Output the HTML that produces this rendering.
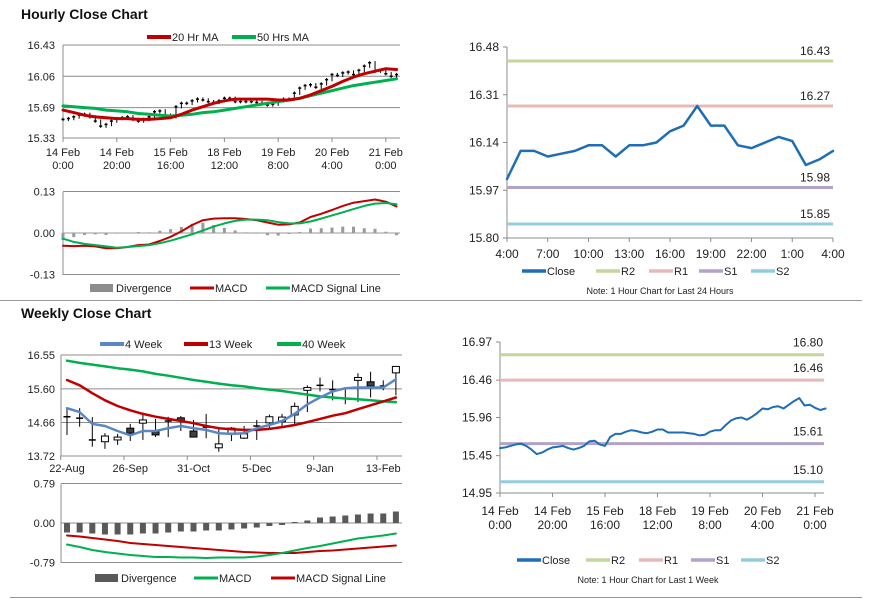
<!DOCTYPE html>
<html><head><meta charset="utf-8"><style>
html,body{margin:0;padding:0;background:#fff;}
svg{display:block;font-family:"Liberation Sans",Arial,sans-serif;}
</style></head><body>
<svg id="c" width="873" height="601" viewBox="0 0 873 601">
<text x="21" y="19" font-size="14" font-weight="bold" fill="#111">Hourly Close Chart</text>
<text x="21" y="318" font-size="14" font-weight="bold" fill="#111">Weekly Close Chart</text>
<line x1="0" y1="300.5" x2="862" y2="300.5" stroke="#999" stroke-width="1"/>
<line x1="10" y1="597.5" x2="862" y2="597.5" stroke="#999" stroke-width="1"/>
</svg>
<script>
// ---------- data ----------
const hrClose=[15.55,15.56,15.58,15.60,15.61,15.58,15.53,15.47,15.49,15.53,15.56,15.57,15.58,15.55,15.53,15.55,15.58,15.64,15.65,15.60,15.58,15.70,15.74,15.74,15.77,15.79,15.78,15.76,15.75,15.77,15.80,15.80,15.76,15.76,15.76,15.76,15.75,15.74,15.72,15.73,15.77,15.79,15.79,15.86,15.92,15.95,15.96,15.93,15.97,16.02,16.08,16.07,16.10,16.11,16.08,16.13,16.18,16.22,16.12,16.13,16.09,16.06,16.08];
const hrMA20=[15.66,15.63,15.60,15.58,15.57,15.56,15.56,15.55,15.55,15.56,15.57,15.61,15.66,15.70,15.74,15.77,15.79,15.79,15.79,15.79,15.78,15.78,15.80,15.84,15.89,15.94,16.00,16.05,16.09,16.12,16.15,16.14];
const hrMA50=[15.71,15.70,15.69,15.68,15.66,15.65,15.64,15.62,15.61,15.60,15.59,15.60,15.61,15.63,15.64,15.66,15.68,15.70,15.72,15.74,15.76,15.78,15.80,15.83,15.86,15.89,15.92,15.95,15.97,15.99,16.01,16.03];
const hrMacd=[-0.040,-0.041,-0.040,-0.042,-0.048,-0.048,-0.044,-0.038,-0.036,-0.025,-0.012,0.005,0.025,0.040,0.045,0.046,0.046,0.044,0.040,0.033,0.026,0.027,0.033,0.050,0.060,0.072,0.085,0.095,0.100,0.105,0.098,0.083];
const hrSignal=[-0.018,-0.028,-0.034,-0.038,-0.042,-0.046,-0.044,-0.041,-0.038,-0.032,-0.024,-0.014,-0.004,0.008,0.020,0.030,0.038,0.042,0.042,0.040,0.034,0.030,0.030,0.036,0.045,0.055,0.065,0.075,0.085,0.092,0.094,0.090];
const hrDiv=[-0.022,-0.013,-0.006,-0.004,-0.006,-0.002,0.000,0.003,0.002,0.007,0.012,0.019,0.029,0.032,0.025,0.016,0.008,0.002,-0.002,-0.007,-0.008,-0.003,0.003,0.014,0.015,0.017,0.020,0.020,0.015,0.013,0.004,-0.007];
const hrTicks=[["14 Feb","0:00"],["14 Feb","20:00"],["15 Feb","16:00"],["18 Feb","12:00"],["19 Feb","8:00"],["20 Feb","4:00"],["21 Feb","0:00"]];
const hrPriceTicks=[16.43,16.06,15.69,15.33];
const hrMacdTicks=[0.13,0.00,-0.13];

const dayClose=[16.01,16.11,16.11,16.09,16.10,16.11,16.13,16.13,16.09,16.13,16.13,16.14,16.18,16.20,16.27,16.20,16.20,16.13,16.12,16.14,16.16,16.145,16.06,16.08,16.11];
const dayTicks=["4:00","7:00","10:00","13:00","16:00","19:00","22:00","1:00","4:00"];
const dayYTicks=[16.48,16.31,16.14,15.97,15.80];
const dayLevels=[16.43,16.27,15.98,15.85];
const weekLevels=[16.80,16.46,15.61,15.10];
const weekYTicks=[16.97,16.46,15.96,15.45,14.95];

const wkOpen =[14.82,14.78,14.17,14.12,14.17,14.50,14.64,14.40,14.70,14.79,14.42,14.53,13.95,14.36,14.22,14.56,14.65,14.68,14.87,15.56,15.70,15.58,15.33,15.84,15.80,15.68,16.05];
const wkClose=[14.82,14.78,14.17,14.28,14.25,14.36,14.73,14.31,14.70,14.70,14.25,14.53,14.06,14.50,14.34,14.56,14.82,14.81,15.11,15.64,15.70,15.58,15.33,15.92,15.68,15.68,16.23];
const wkHigh =[15.06,15.06,14.81,14.36,14.34,14.62,14.94,14.76,14.82,14.84,14.73,14.90,14.50,14.53,14.56,14.73,14.88,14.90,15.22,15.70,15.92,15.84,15.62,16.04,16.08,15.84,16.23];
const wkLow  =[14.31,14.54,13.98,13.92,14.03,14.14,14.17,14.25,14.25,14.42,14.28,14.22,13.84,14.14,14.20,14.17,14.45,14.56,14.59,14.95,15.53,15.28,15.17,15.23,15.36,15.56,15.42];
const wk4=[15.06,14.95,14.62,14.56,14.42,14.30,14.42,14.42,14.50,14.56,14.50,14.45,14.36,14.34,14.36,14.50,14.59,14.70,14.90,15.17,15.36,15.53,15.62,15.64,15.64,15.64,15.87];
const wk13=[15.85,15.70,15.48,15.28,15.12,15.00,14.90,14.82,14.76,14.70,14.64,14.56,14.50,14.47,14.45,14.45,14.48,14.53,14.59,14.67,14.76,14.85,14.92,15.03,15.14,15.25,15.36];
const wk40=[16.39,16.33,16.28,16.23,16.18,16.14,16.09,16.02,15.97,15.91,15.85,15.80,15.75,15.70,15.67,15.62,15.58,15.54,15.49,15.44,15.39,15.36,15.33,15.31,15.28,15.25,15.23];
const wkDiv=[-0.19,-0.19,-0.21,-0.23,-0.23,-0.23,-0.21,-0.21,-0.19,-0.17,-0.17,-0.15,-0.15,-0.13,-0.11,-0.09,-0.06,-0.04,0.02,0.05,0.11,0.13,0.15,0.17,0.19,0.19,0.23];
const wkMacd=[-0.43,-0.48,-0.54,-0.58,-0.61,-0.64,-0.66,-0.68,-0.68,-0.69,-0.69,-0.70,-0.69,-0.69,-0.69,-0.67,-0.64,-0.60,-0.55,-0.50,-0.46,-0.41,-0.36,-0.31,-0.28,-0.25,-0.21];
const wkSignal=[-0.25,-0.27,-0.30,-0.33,-0.36,-0.40,-0.42,-0.44,-0.46,-0.48,-0.50,-0.52,-0.54,-0.56,-0.58,-0.59,-0.60,-0.60,-0.60,-0.58,-0.56,-0.55,-0.53,-0.51,-0.49,-0.47,-0.45];
const wkTicks=["22-Aug","26-Sep","31-Oct","5-Dec","9-Jan","13-Feb"];
const wkPriceTicks=[16.55,15.60,14.66,13.72];
const wkMacdTicks=[0.79,0.00,-0.79];

// ---------- helpers ----------
const svg=document.getElementById('c');
const NS='http://www.w3.org/2000/svg';
function mk(tag,attrs,name,txt){
  const e=document.createElementNS(NS,tag);
  for(const k in attrs) e.setAttribute(k,attrs[k]);
  
  
  if(txt!==undefined) e.textContent=txt;
  svg.appendChild(e);
  return e;
}
function line(x1,y1,x2,y2,stroke,w,name){return mk('line',{x1,y1,x2,y2,stroke,'stroke-width':w},name);}
function text(x,y,s,anchor,size,name,fill){return mk('text',{x,y,'font-size':size||11,'text-anchor':anchor||'start',fill:fill||'#222'},name,s);}
function poly(xs,ys,stroke,w,name){
  let d=''; for(let i=0;i<xs.length;i++) d+=(i?'L':'M')+xs[i].toFixed(1)+' '+ys[i].toFixed(1);
  return mk('path',{d,fill:'none',stroke,'stroke-width':w,'stroke-linejoin':'round','stroke-linecap':'round'},name);
}
function legendLine(x,y,color,label,w,name){
  line(x,y,x+24,y,color,w||4,name+'-swatch');
  text(x+25,y+4,label,'start',11,name+'-label');
}
function legendBox(x,y,color,label,name){
  mk('rect',{x,y:y-4,width:23,height:8,fill:color},name+'-swatch');
  text(x+26,y+4,label,'start',11,name+'-label');
}
const GRID='#8c8c8c', AX='#8c8c8c';

// ---------- Panel 1: hourly price ----------
(function(){
  const L=63,R=400,T=45,B=138,vmax=16.43,vmin=15.33;
  const x=h=>L+h*2.69, y=v=>T+(vmax-v)/(vmax-vmin)*(B-T);
  hrPriceTicks.forEach(v=>{line(L,y(v),R,y(v),GRID,1,'hourly-price-gridline');text(55,y(v)+4,v.toFixed(2),'end',11,'hourly-price-y-label');});
  line(L,T,L,B,AX,1,'hourly-price-y-axis');
  hrTicks.forEach((t,i)=>{const xx=x(i*20);line(xx,B,xx,B+4,AX,1,'hourly-price-x-tick');
    text(xx,B+18,t[0],'middle',11,'hourly-price-x-label');text(xx,B+31,t[1],'middle',11,'hourly-price-x-label');});
  hrClose.forEach((c,i)=>{const p=i?hrClose[i-1]:c;const xx=x(i*2);
    line(xx,y(Math.max(c,p)+0.02),xx,y(Math.min(c,p)-0.02),'#000',1,'hourly-candle-wick');
    line(xx-1.5,y(c),xx+1.5,y(c),'#000',1.5,'hourly-candle-body');});
  const xs=hrMA20.map((v,i)=>x(i*4));
  poly(xs,hrMA50.map(y),'#00b050',3,'ma50-line');
  poly(xs,hrMA20.map(y),'#c00000',3,'ma20-line');
  legendLine(147,37,'#c00000','20 Hr MA',4,'legend-ma20');
  legendLine(232,37,'#00b050','50 Hrs MA',4,'legend-ma50');
})();

// ---------- Panel 1b: hourly MACD ----------
(function(){
  const L=63,R=400,T=192,B=275;
  const x=h=>L+h*2.69, y=v=>233-v/0.13*41.5;
  [0.13,-0.13].forEach(v=>line(L,y(v),R,y(v),GRID,1,'hourly-macd-gridline'));
  hrMacdTicks.forEach(v=>text(55,y(v)+4,v.toFixed(2),'end',11,'hourly-macd-y-label'));
  line(L,T,L,B,AX,1,'hourly-macd-y-axis');
  hrDiv.forEach((v,i)=>{const xx=x(i*4);
    mk('rect',{x:xx-1.5,y:Math.min(y(v),y(0)),width:3,height:Math.max(0.5,Math.abs(y(v)-y(0))),fill:'#9a9a9a'},'hourly-divergence-bar');});
  line(L,y(0),R,y(0),'#999',1,'hourly-macd-zero-line');
  const xs=hrMacd.map((v,i)=>x(i*4));
  poly(xs,hrMacd.map(y),'#c00000',2,'hourly-macd-line');
  poly(xs,hrSignal.map(y),'#00b050',2,'hourly-signal-line');
  legendBox(90,288,'#8c8c8c','Divergence','legend-hourly-divergence');
  legendLine(190,288,'#c00000','MACD',3,'legend-hourly-macd');
  legendLine(266,288,'#00b050','MACD Signal Line',3,'legend-hourly-signal');
})();

// ---------- Panel 2: 24h close with levels ----------
(function(){
  const L=507,R=833,T=47,B=238,vmax=16.48,vmin=15.80;
  const x=i=>L+i*(R-L)/24, y=v=>T+(vmax-v)/(vmax-vmin)*(B-T);
  line(L,T,L,B,AX,1,'day-y-axis');line(L,B,R,B,AX,1,'day-x-axis');
  dayYTicks.forEach(v=>{line(L-4,y(v),L,y(v),AX,1,'day-y-tick');text(499,y(v)+4,v.toFixed(2),'end',12,'day-y-label');});
  dayTicks.forEach((t,i)=>{const xx=x(i*3);line(xx,B,xx,B+4,AX,1,'day-x-tick');text(xx,B+20,t,'middle',12,'day-x-label');});
  const cols=['#c3d69b','#e6b9b8','#b3a2c7','#93cddd'],nm=['r2','r1','s1','s2'];
  dayLevels.forEach((v,i)=>{line(L,y(v),R,y(v),cols[i],3,'day-level-'+nm[i]);text(830,y(v)-6,v.toFixed(2),'end',12,'day-level-label-'+nm[i]);});
  poly(dayClose.map((v,i)=>x(i)),dayClose.map(y),'#1f6db5',2.5,'day-close-line');
  legendLine(522,271,'#1f6db5','Close',3.5,'legend-day-close');
  legendLine(596,271,'#c3d69b','R2',3.5,'legend-day-r2');
  legendLine(649,271,'#e6b9b8','R1',3.5,'legend-day-r1');
  legendLine(699,271,'#b3a2c7','S1',3.5,'legend-day-s1');
  legendLine(751,271,'#93cddd','S2',3.5,'legend-day-s2');
  text(660,294,'Note: 1 Hour Chart for Last 24 Hours','middle',9,'day-note');
})();

// ---------- Panel 3: weekly candles ----------
(function(){
  const L=61,R=402,T=355,B=456,vmax=16.55,vmin=13.72;
  const x=i=>67+i*12.65, y=v=>T+(vmax-v)/(vmax-vmin)*(B-T);
  wkPriceTicks.forEach(v=>{line(L,y(v),R,y(v),GRID,1,'weekly-price-gridline');text(55,y(v)+4,v.toFixed(2),'end',11,'weekly-price-y-label');});
  line(L,T,L,B,AX,1,'weekly-price-y-axis');
  wkTicks.forEach((t,i)=>{const xx=x(i*5);line(xx-6.3,B,xx-6.3,B+4,AX,1,'weekly-x-tick');text(xx,B+16,t,'middle',11,'weekly-x-label');});
  wkOpen.forEach((o,i)=>{const c=wkClose[i],xx=x(i);
    line(xx,y(wkHigh[i]),xx,y(wkLow[i]),'#000',1,'weekly-candle-wick');
    const top=y(Math.max(o,c)),bot=y(Math.min(o,c));
    if(bot-top<1.5){line(xx-3.5,top,xx+3.5,top,'#000',1.5,'weekly-candle-doji');}
    else mk('rect',{x:xx-3.5,y:top,width:7,height:bot-top,fill:c>=o?'#fff':'#404040',stroke:'#000','stroke-width':1},'weekly-candle-body');});
  const xs=wk4.map((v,i)=>x(i));
  poly(xs,wk40.map(y),'#00b050',2.5,'wk40-line');
  poly(xs,wk13.map(y),'#c00000',2.5,'wk13-line');
  poly(xs,wk4.map(y),'#5b87c5',2.5,'wk4-line');
  legendLine(100,344,'#5b87c5','4 Week',4,'legend-wk4');
  legendLine(184,344,'#c00000','13 Week',4,'legend-wk13');
  legendLine(277,344,'#00b050','40 Week',4,'legend-wk40');
})();

// ---------- Panel 3b: weekly MACD ----------
(function(){
  const L=61,R=402,T=484,B=563;
  const x=i=>67+i*12.65, y=v=>523-v/0.79*39.5;
  [0.79,0.00,-0.79].forEach(v=>line(L,y(v),R,y(v),GRID,1,'weekly-macd-gridline'));
  wkMacdTicks.forEach(v=>text(55,y(v)+4,v.toFixed(2),'end',11,'weekly-macd-y-label'));
  line(L,T,L,B,AX,1,'weekly-macd-y-axis');
  wkDiv.forEach((v,i)=>mk('rect',{x:x(i)-3,y:Math.min(y(v),y(0)),width:6,height:Math.abs(y(v)-y(0)),fill:'#595959'},'weekly-divergence-bar'));
  const xs=wkMacd.map((v,i)=>x(i));
  poly(xs,wkSignal.map(y),'#c00000',2,'weekly-signal-line');
  poly(xs,wkMacd.map(y),'#00b050',2,'weekly-macd-line');
  legendBox(95,578,'#595959','Divergence','legend-weekly-divergence');
  legendLine(194,578,'#00b050','MACD',3,'legend-weekly-macd');
  legendLine(271,578,'#c00000','MACD Signal Line',3,'legend-weekly-signal');
})();

// ---------- Panel 4: 1 week close with levels ----------
(function(){
  const L=500,R=824,T=342,B=493,vmax=16.97,vmin=14.95;
  const x=h=>L+h*2.625, y=v=>T+(vmax-v)/(vmax-vmin)*(B-T);
  line(L,T,L,B,AX,1,'week-y-axis');line(L,B,R,B,AX,1,'week-x-axis');
  weekYTicks.forEach(v=>{line(L-4,y(v),L,y(v),AX,1,'week-y-tick');text(492,y(v)+4,v.toFixed(2),'end',12,'week-y-label');});
  hrTicks.forEach((t,i)=>{const xx=x(i*20);line(xx,B,xx,B+4,AX,1,'week-x-tick');
    text(xx,B+22,t[0],'middle',12,'week-x-label');text(xx,B+36,t[1],'middle',12,'week-x-label');});
  const cols=['#c3d69b','#e6b9b8','#b3a2c7','#93cddd'],nm=['r2','r1','s1','s2'];
  weekLevels.forEach((v,i)=>{line(L,y(v),R,y(v),cols[i],3,'week-level-'+nm[i]);text(823,y(v)-8,v.toFixed(2),'end',12,'week-level-label-'+nm[i]);});
  poly(hrClose.map((v,i)=>x(i*2)),hrClose.map(y),'#1f6db5',2,'week-close-line');
  legendLine(517,560,'#1f6db5','Close',3.5,'legend-week-close');
  legendLine(586,560,'#c3d69b','R2',3.5,'legend-week-r2');
  legendLine(639,560,'#e6b9b8','R1',3.5,'legend-week-r1');
  legendLine(691,560,'#b3a2c7','S1',3.5,'legend-week-s1');
  legendLine(741,560,'#93cddd','S2',3.5,'legend-week-s2');
  text(648,583,'Note: 1 Hour Chart for Last 1 Week','middle',9,'week-note');
})();
</script>
</body></html>
